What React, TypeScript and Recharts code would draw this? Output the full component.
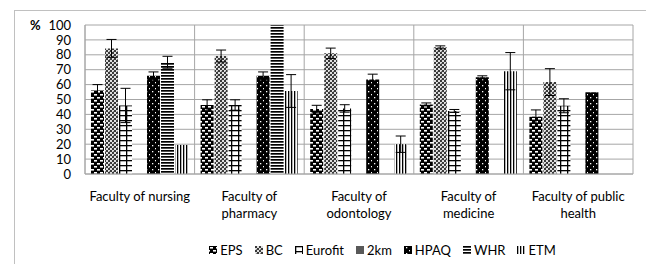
import { Bar, BarChart, CartesianGrid, ErrorBar, Legend, XAxis, YAxis } from "recharts";

const faculties = [
  "Faculty of nursing",
  "Faculty of\npharmacy",
  "Faculty of\nodontology",
  "Faculty of\nmedicine",
  "Faculty of public\nhealth",
];
const yTicks = [0, 10, 20, 30, 40, 50, 60, 70, 80, 90, 100];

const eps = [56, 46.3, 43.6, 46.7, 38.5];
const epsErr = [4, 3.5, 2.5, 1, 4.5];
const bc = [84.3, 79.2, 81, 85, 61.7];
const bcErr = [6, 4, 3.5, 1, 9];
const eurofit = [46, 46.3, 44, 42.3, 45.8];
const eurofitErr = [11.5, 3.5, 2.5, 1, 4.7];
const twoKm = [null, null, null, null, null];
const hpaq = [66, 66, 63.5, 64.9, 54.8];
const hpaqErr = [2.5, 2.5, 3.5, 1, null];
const whr = [75, 100, null, null, null];
const whrErr = [4, null, null, null, null];
const etm = [19.5, 55.7, 20, 69, null];
const etmErr = [null, 11, 5.5, 12.5, null];

const FONT = "Lato, 'Noto Sans', sans-serif";
const GRID = "#a6a6a6";

const series = [
  { key: "eps", name: "EPS", fill: "url(#pEps)", values: eps, err: epsErr },
  { key: "bc", name: "BC", fill: "url(#pBc)", values: bc, err: bcErr },
  { key: "eurofit", name: "Eurofit", fill: "url(#pEuro)", values: eurofit, err: eurofitErr },
  { key: "twoKm", name: "2km", fill: "#595959", values: twoKm, err: twoKm },
  { key: "hpaq", name: "HPAQ", fill: "url(#pHpaq)", values: hpaq, err: hpaqErr },
  { key: "whr", name: "WHR", fill: "url(#pWhr)", values: whr, err: whrErr },
  { key: "etm", name: "ETM", fill: "url(#pEtm)", values: etm, err: etmErr },
];

const data = faculties.map((f, i) => {
  const row: Record<string, string | number | null> = { faculty: f };
  series.forEach((s) => {
    row[s.key] = s.values[i];
    row[s.key + "Err"] = s.err[i];
  });
  return row;
});

const FacultyTick = ({ x, y, payload }: any) => {
  const lines = String(payload.value).split("\n");
  return (
    <text x={x} y={y} textAnchor="middle" fontFamily={FONT} fontSize={13} fill="#000">
      {lines.map((l, i) => (
        <tspan key={i} x={x} dy={i === 0 ? 27 : 17}>
          {l}
        </tspan>
      ))}
    </text>
  );
};

// keep the series order (recharts sorts legend items by name otherwise)
const renderLegend = () => (
  <div
    style={{
      display: "flex",
      justifyContent: "center",
      paddingLeft: 119,
      fontFamily: FONT,
      fontSize: 13,
      color: "#000",
      whiteSpace: "nowrap",
    }}
  >
    {series.map((s) => (
      <span key={s.key} style={{ display: "flex", alignItems: "center", margin: "0 6px" }}>
        <svg width={8} height={8} style={{ marginRight: 3 }}>
          <rect width={8} height={8} fill={s.fill} />
        </svg>
        {s.name}
      </span>
    ))}
  </div>
);

export default function App() {
  return (
    <div style={{ position: "absolute", left: 0, top: 0, width: 646, height: 264, overflow: "hidden", background: "#fff" }}>
      <div style={{ position: "absolute", left: 14, top: 10, width: 700, height: 300, border: "1px solid #c0c0c0" }} />
      <BarChart
        width={646}
        height={264}
        data={data}
        margin={{ top: 25, right: 13, left: 14, bottom: 0 }}
        barCategoryGap={6}
        barGap={1}
        style={{ position: "absolute", left: 0, top: 0 }}
      >
        <defs>
          <pattern id="pEps" patternUnits="userSpaceOnUse" width={6} height={6}>
            <rect width={6} height={6} fill="#000" />
            <rect x={1} y={1} width={3} height={1.6} fill="#fff" />
            <rect x={4} y={4} width={3} height={1.6} fill="#fff" />
            <rect x={-2} y={4} width={3} height={1.6} fill="#fff" />
          </pattern>
          <pattern id="pBc" patternUnits="userSpaceOnUse" width={4} height={4}>
            <rect width={4} height={4} fill="#e0e0e0" />
            <rect x={0} y={0} width={2} height={2} fill="#3a3a3a" />
            <rect x={2} y={2} width={2} height={2} fill="#3a3a3a" />
            <rect x={1} y={3} width={1} height={1} fill="#888" />
          </pattern>
          <pattern id="pEuro" patternUnits="userSpaceOnUse" width={7} height={5}>
            <rect width={7} height={5} fill="#fff" />
            <rect x={0} y={0} width={7} height={1.3} fill="#000" />
            <rect x={0} y={0} width={1.3} height={5} fill="#000" />
          </pattern>
          <pattern id="pHpaq" patternUnits="userSpaceOnUse" width={6} height={6}>
            <rect width={6} height={6} fill="#000" />
            <rect x={2} y={1} width={1.3} height={1.3} fill="#fff" />
            <rect x={5} y={4} width={1.3} height={1.3} fill="#fff" />
          </pattern>
          <pattern id="pWhr" patternUnits="userSpaceOnUse" width={3} height={3}>
            <rect width={3} height={3} fill="#fff" />
            <rect width={3} height={1.7} fill="#000" />
          </pattern>
          <pattern id="pEtm" patternUnits="userSpaceOnUse" width={3} height={3}>
            <rect width={3} height={3} fill="#fff" />
            <rect width={1.3} height={3} fill="#000" />
          </pattern>
        </defs>
        <CartesianGrid
          stroke={GRID}
          verticalCoordinatesGenerator={({ offset }: any) =>
            faculties.map((_, i) => offset.left + (i * offset.width) / faculties.length).concat(offset.left + offset.width)
          }
        />
        <XAxis
          dataKey="faculty"
          tick={<FacultyTick />}
          tickLine={false}
          tickSize={0}
          tickMargin={0}
          axisLine={{ stroke: GRID }}
          height={90}
          interval={0}
        />
        <YAxis
          domain={[0, 100]}
          ticks={yTicks}
          interval={0}
          width={71}
          tickLine={false}
          axisLine={{ stroke: GRID }}
          tickSize={0}
          tickMargin={14}
          tick={{ fill: "#000", fontSize: 13, fontFamily: FONT }}
          label={{
            content: ({ viewBox }: any) => (
              <text x={viewBox.x + 16} y={viewBox.y + 5} fontFamily={FONT} fontSize={13} fontWeight="bold" fill="#000">
                %
              </text>
            ),
          }}
        />
        <Legend
          layout="horizontal"
          verticalAlign="middle"
          align="center"
          content={renderLegend}
          wrapperStyle={{ left: 0, top: 242, width: 646 }}
        />
        {series.map((s) => (
          <Bar key={s.key} dataKey={s.key} name={s.name} fill={s.fill} isAnimationActive={false}>
            <ErrorBar dataKey={s.key + "Err"} width={5} stroke="#000" strokeWidth={1} direction="y" />
          </Bar>
        ))}
      </BarChart>
    </div>
  );
}
